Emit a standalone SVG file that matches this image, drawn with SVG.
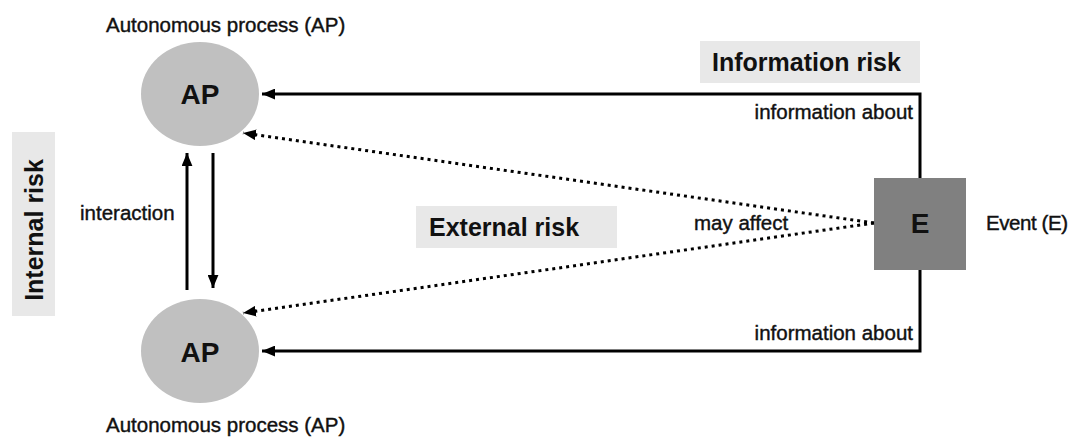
<svg xmlns="http://www.w3.org/2000/svg" width="1071" height="437" viewBox="0 0 1071 437">
<style>
.lbl{font-family:"Liberation Sans",Arial,sans-serif;font-size:20.5px;fill:#111;stroke:#111;stroke-width:0.4}
.big{font-family:"Liberation Sans",Arial,sans-serif;font-size:28px;font-weight:bold;fill:#111;text-anchor:middle}
.risk{font-family:"Liberation Sans",Arial,sans-serif;font-size:25px;font-weight:bold;fill:#111}
.band{fill:#e8e8e8}
.ap{fill:#c0c0c0}
.solid{fill:none;stroke:#000;stroke-width:3}
.dot{fill:none;stroke:#000;stroke-width:3;stroke-dasharray:3 4}
</style>
<defs>
<marker id="ah" viewBox="0 0 12 10" refX="12" refY="5" markerWidth="13" markerHeight="11" markerUnits="userSpaceOnUse" orient="auto">
<path d="M0,0 L12,5 L0,10 Z" fill="#000"/>
</marker>
</defs>
<rect width="1071" height="437" fill="#fff"/>

<g id="internal-risk">
<rect class="band" x="12" y="132" width="43" height="184"/>
<text class="risk" transform="translate(43,230) rotate(-90)" text-anchor="middle">Internal risk</text>
</g>

<g id="information-risk">
<rect class="band" x="700" y="41" width="220" height="42"/>
<text class="risk" x="712" y="71">Information risk</text>
</g>

<g id="external-risk">
<rect class="band" x="416" y="206" width="201" height="42"/>
<text class="risk" x="429" y="236">External risk</text>
</g>

<g id="ap-top">
<ellipse class="ap" cx="200" cy="94" rx="59" ry="52"/>
<text class="big" x="200" y="104">AP</text>
<text class="lbl" x="106" y="32">Autonomous process (AP)</text>
</g>

<g id="ap-bottom">
<ellipse class="ap" cx="200" cy="351" rx="59" ry="52"/>
<text class="big" x="200" y="362">AP</text>
<text class="lbl" x="106" y="432">Autonomous process (AP)</text>
</g>

<g id="event">
<rect x="874" y="178" width="92" height="92" fill="#808080"/>
<text class="big" x="920" y="233">E</text>
<text class="lbl" x="986" y="230" textLength="82">Event (E)</text>
</g>

<g id="connectors">
<path class="solid" d="M920,178 V94 H262" marker-end="url(#ah)"/>
<path class="solid" d="M920,270 V351 H262" marker-end="url(#ah)"/>
<path class="dot" d="M874,223 L243,133" marker-end="url(#ah)"/>
<path class="dot" d="M874,223 L243,313" marker-end="url(#ah)"/>
<path class="solid" d="M187,290 V153" marker-end="url(#ah)"/>
<path class="solid" d="M213,153 V288" marker-end="url(#ah)"/>
<text class="lbl" x="913" y="119" text-anchor="end">information about</text>
<text class="lbl" x="913" y="340" text-anchor="end">information about</text>
<text class="lbl" x="694" y="230">may affect</text>
<text class="lbl" x="80" y="220">interaction</text>
</g>
</svg>
